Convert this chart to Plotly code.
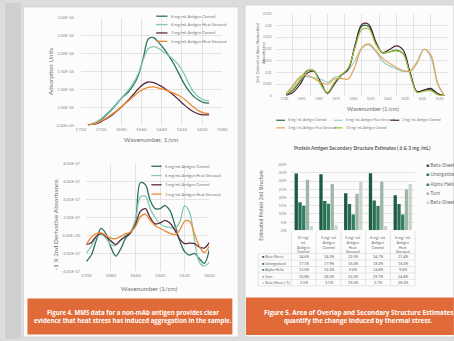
import plotly.graph_objects as go

W, H = 454, 341


def fx(p):
    return p / W


def fy(p):
    return 1 - p / H


FONT = "Lato, 'Liberation Sans', sans-serif"
BANNER_FONT = "'Open Sans', 'Liberation Sans', sans-serif"
TICK_C = "#8c8c8c"
TITLE_C = "#6f6f6f"
GRID_C = "#e3e3e3"

# ---------------- Figure 4, top: absorbance spectra (x 1e-4) ----------------
WN_ABS = [1713, 1708, 1703, 1698, 1693, 1688, 1683, 1678, 1673, 1668, 1663, 1658, 1653,
          1648, 1643, 1638, 1633, 1628, 1623, 1618, 1613, 1608, 1603, 1598, 1593]
ABS_6_CTRL = [0.0, 0.04, 0.1, 0.2, 0.33, 0.48, 0.65, 0.8, 0.93, 1.12, 1.4, 1.9, 2.42,
              2.45, 2.32, 2.15, 1.95, 1.72, 1.45, 1.18, 0.96, 0.8, 0.7, 0.63, 0.62]
ABS_6_HS = [0.0, 0.05, 0.12, 0.23, 0.36, 0.5, 0.66, 0.82, 0.98, 1.18, 1.45, 1.85, 2.15,
            2.2, 2.15, 2.05, 1.95, 1.83, 1.68, 1.45, 1.15, 0.92, 0.78, 0.7, 0.68]
ABS_3_CTRL = [0.0, 0.02, 0.06, 0.13, 0.21, 0.31, 0.43, 0.56, 0.7, 0.86, 1.02, 1.15, 1.21,
              1.19, 1.13, 1.05, 0.95, 0.84, 0.71, 0.58, 0.46, 0.37, 0.31, 0.29, 0.29]
ABS_3_HS = [0.0, 0.03, 0.08, 0.15, 0.23, 0.33, 0.44, 0.56, 0.68, 0.8, 0.92, 1.01, 1.06,
            1.07, 1.04, 1.0, 0.95, 0.9, 0.83, 0.74, 0.62, 0.5, 0.4, 0.34, 0.33]
ABS_SCALE = 1e-4
ABS_TICKS = [0, 5e-5, 1e-4, 1.5e-4, 2e-4, 2.5e-4, 3e-4]
ABS_TICK_LABELS = ["0.00E+00", "5.00E-05", "1.00E-04", "1.50E-04", "2.00E-04", "2.50E-04", "3.00E-04"]
ABS_X_TICKS = [1720, 1700, 1680, 1660, 1640, 1620, 1600, 1580]

# ---------------- Figure 4, bottom: -1 x 2nd derivative (x 1e-7) ----------------
WN_D2 = [1700, 1696, 1692, 1688, 1684, 1680, 1676, 1672, 1668, 1664, 1660, 1656, 1652,
         1648, 1644, 1640, 1636, 1632, 1628, 1624, 1620, 1616, 1612, 1608, 1604, 1600]
D2_6_CTRL = [-2.9, -2.2, -0.6, 0.8, 0.2, -1.3, -2.3, -1.5, -0.3, 0.3, 1.6, 5.9, 5.7,
             3.9, 3.0, 3.0, 3.35, 2.8, 1.2, -0.6, -1.8, -2.2, -2.0, -2.6, -3.1, -1.6]
D2_6_HS = [-2.0, -1.2, -0.2, 0.2, -0.3, -1.0, -1.1, -0.5, 0.0, 0.4, 1.8, 4.3, 4.4,
           3.0, 2.0, 1.3, 1.0, 0.9, 0.8, 1.5, 3.3, 2.6, -0.5, -3.0, -3.4, -3.0]
D2_3_CTRL = [-1.0, -0.8, -0.1, 0.2, -0.1, -0.6, -1.0, -0.5, -0.1, 0.3, 1.2, 2.7, 3.0,
             2.0, 1.3, 1.4, 1.7, 1.4, 0.6, -0.4, -0.9, -0.85, -0.9, -1.3, -1.4, -0.8]
D2_3_HS = [-1.0, -0.2, 0.2, 0.3, 0.0, -0.3, -0.35, -0.1, 0.2, 0.4, 1.0, 2.1, 2.4,
           1.7, 1.1, 0.8, 0.5, 0.25, 0.1, 0.6, 1.6, 1.6, 0.2, -1.2, -1.9, -1.2]
D2_SCALE = 1e-7
D2_TICKS = [-4e-7, -2e-7, 0, 2e-7, 4e-7, 6e-7, 8e-7]
D2_TICK_LABELS = ["-4.00E-07", "-2.00E-07", "0.00E+00", "2.00E-07", "4.00E-07", "6.00E-07", "8.00E-07"]
D2_X_TICKS = [1700, 1680, 1660, 1640, 1620, 1600]

# ---------------- Figure 5, top: area-normalized 2nd derivative ----------------
WN_AN = [1699, 1695, 1691, 1687, 1683, 1679, 1675, 1671, 1667, 1663, 1659, 1655,
         1651, 1647, 1643, 1639, 1635, 1631, 1627, 1623, 1619, 1615, 1611, 1607]
AN_6_CTRL = [0.0005, 0.0025, 0.0062, 0.0105, 0.0108, 0.0052, 0.0012, 0.0055, 0.0088, 0.0115,
             0.021, 0.0298, 0.0296, 0.0225, 0.0183, 0.0188, 0.0195, 0.018, 0.0095, 0.0018,
             0.0024, 0.0028, 0.0008, 0.0]
AN_6_HS = [0.0008, 0.004, 0.0078, 0.0082, 0.0077, 0.0072, 0.0058, 0.0078, 0.0088, 0.011,
           0.015, 0.0205, 0.0218, 0.019, 0.0148, 0.0128, 0.0115, 0.0105, 0.0108, 0.0145,
           0.02, 0.0165, 0.005, 0.0]
AN_3_CTRL = [0.0003, 0.0015, 0.0048, 0.0095, 0.0105, 0.006, 0.0012, 0.005, 0.0088, 0.0112,
             0.0215, 0.0305, 0.0305, 0.0232, 0.0185, 0.0198, 0.0213, 0.0195, 0.01, 0.0018,
             0.0025, 0.0032, 0.001, 0.0]
AN_3_HS = [0.001, 0.0045, 0.0082, 0.009, 0.0075, 0.0058, 0.005, 0.0072, 0.0075, 0.0072,
           0.0125, 0.0205, 0.0222, 0.0195, 0.016, 0.014, 0.0122, 0.0108, 0.0105, 0.014,
           0.0198, 0.0175, 0.0055, 0.0]
AN_15_CTRL = [0.0007, 0.003, 0.0068, 0.0108, 0.0108, 0.005, 0.0015, 0.0058, 0.009, 0.0118,
              0.0205, 0.0283, 0.0285, 0.0222, 0.0185, 0.0188, 0.0192, 0.0178, 0.009, 0.0015,
              0.002, 0.0022, 0.0005, 0.0]
AN_TICKS = [0, 0.005, 0.01, 0.015, 0.02, 0.025, 0.03, 0.035]
AN_TICK_LABELS = ["0", "0.005", "0.01", "0.015", "0.02", "0.025", "0.03", "0.035"]
AN_X_TICKS = [1700, 1690, 1680, 1670, 1660, 1650, 1640, 1630, 1620, 1610]
AN_X_GRID = [1705, 1695, 1685, 1675, 1665, 1655, 1645, 1635, 1625, 1615]

# ---------------- Figure 5, bottom: secondary structure estimates (%) ----------------
SAMPLES = ["15 mg/ mL Antigen Control", "3 mg/ mL Antigen Control",
           "3 mg/ mL Antigen Heat Stressed", "6 mg/ mL Antigen Control",
           "6 mg/ mL Antigen Heat Stressed"]
SAMPLE_HEADERS = ["15 mg/<br>mL<br>Antigen<br>Control", "3 mg/ mL<br>Antigen<br>Control",
                  "3 mg/ mL<br>Antigen<br>Heat<br>Stressed", "6 mg/ mL<br>Antigen<br>Control",
                  "6 mg/ mL<br>Antigen<br>Heat<br>Stressed"]
STRUCTURES = ["Beta-Sheet", "Unorganized", "Alpha Helix", "Turn", "Beta-Sheet (-1)"]
BETA_SHEET = [34.6, 34.2, 22.5, 34.7, 21.4]
UNORGANIZED = [17.1, 17.9, 16.0, 18.2, 16.0]
ALPHA_HELIX = [15.0, 16.2, 9.6, 14.8, 9.6]
TURN = [30.8, 28.2, 22.2, 29.7, 24.8]
BETA_SHEET_NEG = [2.5, 3.1, 29.5, 2.7, 28.2]
PCT_TICKS = [0, 5, 10, 15, 20, 25, 30, 35, 40]

SPEC_NAMES = ["6 mg/mL Antigen Control", "6 mg/mL Antigen Heat Stressed",
              "3 mg/mL Antigen Control", "3 mg/mL Antigen Heat Stressed"]
SPEC_COLORS = ["#2d6f5e", "#84c9b0", "#5a2a42", "#ee8b2f"]
AN_NAMES = ["6 mg/ mL Antigen Control", "6 mg/ mL Antigen Heat Stressed",
            "3 mg/ mL Antigen Control", "3 mg/ mL Antigen Heat Stressed",
            "15 mg/ mL Antigen Control"]
AN_COLORS = ["#2e6b3c", "#97d2c6", "#4d1f3a", "#e6a25c", "#a3c63c"]
BAR_COLORS = ["#1f5a45", "#2a6e55", "#2f7f60", "#9fb6a7", "#c9d5cc"]

fig = go.Figure()

# spectra
for ys, name, col in zip([ABS_6_CTRL, ABS_6_HS, ABS_3_CTRL, ABS_3_HS], SPEC_NAMES, SPEC_COLORS):
    fig.add_trace(go.Scatter(x=WN_ABS, y=[v * ABS_SCALE for v in ys], name=name, mode="lines",
                             line=dict(color=col, width=1.3, shape="spline", smoothing=1.0),
                             xaxis="x", yaxis="y", showlegend=False))
for ys, name, col in zip([D2_6_CTRL, D2_6_HS, D2_3_CTRL, D2_3_HS], SPEC_NAMES, SPEC_COLORS):
    fig.add_trace(go.Scatter(x=WN_D2, y=[v * D2_SCALE for v in ys], name=name, mode="lines",
                             line=dict(color=col, width=1.3, shape="spline", smoothing=1.0),
                             xaxis="x2", yaxis="y2", showlegend=False))
for ys, name, col in zip([AN_6_CTRL, AN_6_HS, AN_3_CTRL, AN_3_HS, AN_15_CTRL], AN_NAMES, AN_COLORS):
    fig.add_trace(go.Scatter(x=WN_AN, y=ys, name=name, mode="lines",
                             line=dict(color=col, width=1.2, shape="spline", smoothing=1.0),
                             xaxis="x3", yaxis="y3", showlegend=False))
# grouped bars
for vals, name, col in zip([BETA_SHEET, UNORGANIZED, ALPHA_HELIX, TURN, BETA_SHEET_NEG],
                           STRUCTURES, BAR_COLORS):
    fig.add_trace(go.Bar(x=SAMPLES, y=vals, name=name, marker=dict(color=col, line=dict(width=0)),
                         xaxis="x4", yaxis="y4", showlegend=False))


def tf(size):
    return dict(family=FONT, size=size, color=TICK_C)


def xax(domain, rng, tickvals, anchor, size, grid=True):
    return dict(domain=domain, range=rng, tickvals=tickvals, showgrid=grid, gridcolor=GRID_C,
                gridwidth=0.6, zeroline=False, showline=False, ticks="", tickfont=tf(size),
                anchor=anchor, fixedrange=True)


def yax(domain, rng, tickvals, ticktext, anchor, standoff, size):
    return dict(domain=domain, range=rng, tickvals=tickvals, ticktext=ticktext, showgrid=True,
                gridcolor=GRID_C, gridwidth=0.6, zeroline=False, showline=False, ticks="",
                tickfont=tf(size), anchor=anchor, ticklabelstandoff=standoff, fixedrange=True)


layout = dict(
    width=W, height=H, margin=dict(l=0, r=0, t=0, b=0),
    paper_bgcolor="#dcdcdc", plot_bgcolor="rgba(0,0,0,0)",
    barmode="group", bargap=0.24, bargroupgap=0.12, showlegend=False,
    font=dict(family=FONT, color=TITLE_C),
    xaxis=xax([fx(77.7), fx(222.6)], [1720, 1580], ABS_X_TICKS, "y", 4.6),
    yaxis=yax([fy(124), fy(15.3)], [0, 3e-4], ABS_TICKS, ABS_TICK_LABELS, "x", 6, 4.0),
    xaxis2=xax([fx(83.3), fx(209.3)], [1700, 1600], D2_X_TICKS, "y2", 4.6),
    yaxis2=yax([fy(272.3), fy(163.3)], [-4e-7, 8e-7], D2_TICKS, D2_TICK_LABELS, "x2", 5, 4.2),
    xaxis3=xax([fx(277.5), 1.0], [1705, 1605], AN_X_TICKS, "y3", 3.3, grid=False),
    yaxis3=yax([fy(94.3), fy(11)], [0, 0.035], AN_TICKS, AN_TICK_LABELS, "x3", 3, 3.3),
    xaxis4=dict(domain=[fx(293.5), fx(420.3)], type="category", showticklabels=False,
                showgrid=False, zeroline=False, showline=False, ticks="", anchor="y4",
                fixedrange=True),
    yaxis4=yax([fy(230.7), fy(164)], [0, 40], PCT_TICKS, [f"{t}%" for t in PCT_TICKS], "x4", 4, 4.0),
)
layout["xaxis3"]["minor"] = dict(tickmode="array", tickvals=AN_X_GRID, showgrid=True,
                                 gridcolor=GRID_C, gridwidth=0.6, ticks="")
fig.update_layout(**layout)

shapes = []
ann = []


def rect(x0, y0, x1, y1, color, line=None):
    shapes.append(dict(type="rect", xref="paper", yref="paper", x0=fx(x0), x1=fx(x1),
                       y0=fy(y1), y1=fy(y0), fillcolor=color, layer="below",
                       line=dict(width=0) if line is None else line))


def text(x, y, s, size, color=TITLE_C, anchor="center", angle=0, bold=False, family=FONT,
         yanchor="middle"):
    ann.append(dict(xref="paper", yref="paper", x=fx(x), y=fy(y), text=s, showarrow=False,
                    xanchor=anchor, yanchor=yanchor, textangle=angle,
                    font=dict(family=family, size=size, color=color,
                              weight="bold" if bold else "normal")))


# page backgrounds
rect(0, 0, 16, 341, "#cfcfcf")
rect(19, 4, 239, 339, "#fcfcfc", line=dict(color="#d2d2d2", width=0.8))
rect(246, 2, 460, 339, "#fcfcfc", line=dict(color="#d2d2d2", width=0.8))
rect(23, 300, 233, 336.5, "#e16b38")
rect(247, 299, 460, 337, "#e16b38")

# captions
cap4 = ["Figure 4. MMS data for a non-mAb antigen provides clear",
        "evidence that heat stress has induced aggregation in the sample."]
cap5 = ["Figure 5. Area of Overlap and Secondary Structure Estimates",
        "quantify the change induced by thermal stress."]
for i, s in enumerate(cap4):
    text(131, 314.3 + 8 * i, s, 6.1, color="#ffffff", bold=True, family=BANNER_FONT)
for i, s in enumerate(cap5):
    text(362, 314.3 + 8 * i, s, 6.3, color="#ffffff", bold=True, family=BANNER_FONT)

# axis titles
text(46.5, 69.6, "Adsorption Units", 6.3, angle=-90)
text(150, 138.5, "Wavenumber, 1/cm", 6.3)
text(52, 225, "-1 X 2nd Derivative Absorbance", 6.5, angle=-90)
text(148, 290, "Wavenumber (1/cm)", 6.3)
text(262, 50, "2nd Derivative Area Normalized<br>Absorbance", 4.3, angle=-90)
text(377, 107.3, "Wavenumber (1/cm)", 5.8)
text(262, 205, "Estimated Protein 2nd Structure", 5.0, angle=-90)
text(366, 147.3, "Protein Antigen Secondary Structure Estimates ( 6 & 3 mg /mL)", 4.9,
     color="#5a5a5a", bold=True)


def legend_line(x0, x1, y, color, label, size, width=1.3):
    shapes.append(dict(type="line", xref="paper", yref="paper", x0=fx(x0), x1=fx(x1),
                       y0=fy(y), y1=fy(y), line=dict(color=color, width=width)))
    text(x1 + 1.2, y, label, size, color="#777777", anchor="left")


for i, (name, col) in enumerate(zip(SPEC_NAMES, SPEC_COLORS)):
    legend_line(155, 166.5, 13.4 + 8.5 * i, col, name, 4.0)
for i, (name, col) in enumerate(zip(SPEC_NAMES, SPEC_COLORS)):
    legend_line(150, 160.5, 165.7 + 9.4 * i, col, name, 4.0)
an_leg_pos = [(278, 119), (337, 119), (395, 119), (278, 126.7), (337, 126.7)]
for (lx, ly), name, col in zip(an_leg_pos, AN_NAMES, AN_COLORS):
    legend_line(lx, lx + 9, ly, col, name, 3.4, width=1.2)

# bar legend (right side)
for i, (name, col) in enumerate(zip(STRUCTURES, BAR_COLORS)):
    yy = 164 + 9.6 * i
    text(429, yy, f"<span style='color:{col}'>■</span> {name}", 5.0, color="#707070", anchor="left")

# data table under the bars
col_w = (420.3 - 293.5) / 5
row_top = 254.3
row_h = 6.55
tbl_line = dict(color="#d6d6d6", width=0.6)
for k in range(6):
    xk = 293.5 + k * col_w
    shapes.append(dict(type="line", xref="paper", yref="paper", x0=fx(xk), x1=fx(xk),
                       y0=fy(231), y1=fy(row_top + 5 * row_h), line=tbl_line))
shapes.append(dict(type="line", xref="paper", yref="paper", x0=fx(259.5), x1=fx(259.5),
                   y0=fy(row_top), y1=fy(row_top + 5 * row_h), line=tbl_line))
for r in range(6):
    yr = row_top + r * row_h
    shapes.append(dict(type="line", xref="paper", yref="paper", x0=fx(259.5), x1=fx(420.3),
                       y0=fy(yr), y1=fy(yr), line=tbl_line))
for c, hdr in enumerate(SAMPLE_HEADERS):
    ann.append(dict(xref="x4", yref="paper", x=c, y=fy(233), text=hdr, showarrow=False,
                    xanchor="center", yanchor="top",
                    font=dict(family=FONT, size=3.7, color="#6a6a6a")))
for r, (name, vals, col) in enumerate(zip(STRUCTURES, [BETA_SHEET, UNORGANIZED, ALPHA_HELIX,
                                                       TURN, BETA_SHEET_NEG], BAR_COLORS)):
    yc = row_top + (r + 0.5) * row_h
    text(261, yc, f"<span style='color:{col}'>■</span> {name}", 3.7, color="#666666", anchor="left")
    for c, v in enumerate(vals):
        ann.append(dict(xref="x4", yref="paper", x=c, y=fy(yc), text=f"{v:.1f}%",
                        showarrow=False, xanchor="center", yanchor="middle",
                        font=dict(family=FONT, size=3.7, color="#666666")))

fig.update_layout(shapes=shapes, annotations=ann)
fig.write_html("out.html")
